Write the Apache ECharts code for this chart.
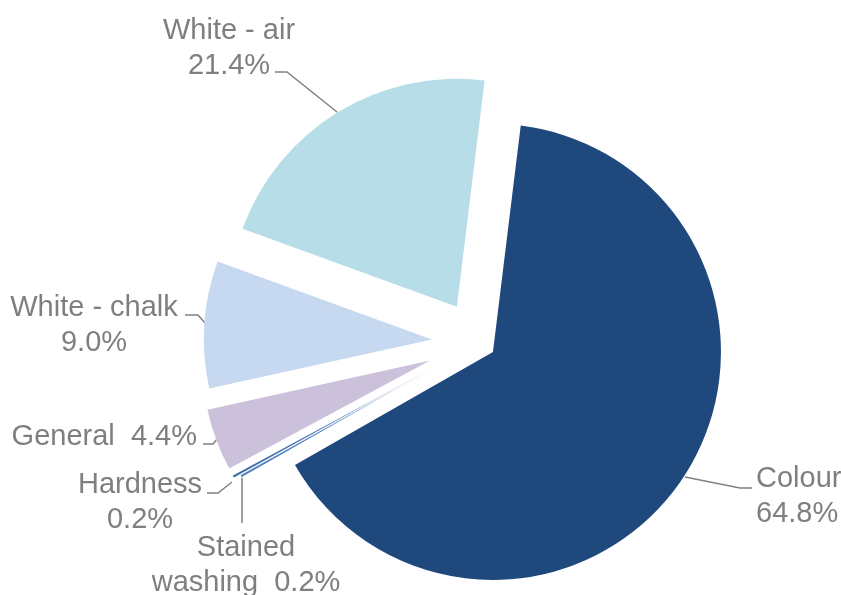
<!DOCTYPE html>
<html>
<head>
<meta charset="utf-8">
<script src="https://cdn.jsdelivr.net/npm/echarts@6/dist/echarts.min.js"></script>
<style>
  html, body { margin: 0; padding: 0; background: #fff; }
  #mainChart { width: 841px; height: 595px; }
</style>
</head>
<body>
<div id="mainChart"></div>
<script>
// data
var categories = ['Colour', 'Stained washing', 'Hardness', 'General', 'White - chalk', 'White - air']
var shares = [64.8, 0.2, 0.2, 4.4, 9.0, 21.4]
var labelNames = ['Colour', 'Stained\nwashing', 'Hardness', 'General', 'White - chalk', 'White - air']
var labelSeps = ['\n', '  ', '\n', '  ', '\n', '\n']

// look
var colors = ['#1f497d', '#4f81bd', '#3e6ba6', '#ccc1da', '#c6d9f1', '#b7dde8']
var explode = [17, 45, 52, 52, 47, 42]
var pieCenter = [478.8, 342.5]
var pieRadius = 228
var startDeg = 7 // clockwise from 12 o'clock

// where each label sits, and its leader line
var labelSpots = [
  { x: 756, y: 496, align: 'left', line: [[685, 477], [740, 488], [752, 488]] },
  { x: 246, y: 565, align: 'center', line: [[242, 475], [242, 500], [242, 523]] },
  { x: 140, y: 502, align: 'center', line: [[232, 482], [218, 493], [207, 493]] },
  { x: 197, y: 437, align: 'right', line: [[218, 438], [213, 444], [203, 444]] },
  { x: 94, y: 325.5, align: 'center', line: [[205, 323], [198, 315], [185, 315]] },
  { x: 229, y: 48, align: 'center', line: [[337, 112], [287, 72], [275, 72]] }
]

var total = shares.reduce(function (a, b) { return a + b }, 0)

var chart = echarts.init(document.getElementById('mainChart'))

var series = []
var cum = 0
categories.forEach(function (name, i) {
  var mid = (startDeg + 360 * (cum + shares[i] / 2) / total) * Math.PI / 180
  cum += shares[i]
  var c = [pieCenter[0] + explode[i] * Math.sin(mid), pieCenter[1] - explode[i] * Math.cos(mid)]
  series.push({
    type: 'pie',
    center: c,
    radius: pieRadius,
    startAngle: 90 - startDeg,
    clockwise: true,
    silent: true,
    animation: false,
    avoidLabelOverlap: false,
    emphasis: { disabled: true },
    label: {
      position: 'outside',
      fontFamily: 'Liberation Sans',
      fontSize: 29,
      lineHeight: 35,
      color: '#7f7f7f',
      formatter: function (p) {
        return labelNames[p.dataIndex] + labelSeps[p.dataIndex] + p.value.toFixed(1) + '%'
      }
    },
    labelLine: { lineStyle: { color: '#808080', width: 1.5 } },
    labelLayout: function (p) {
      var s = labelSpots[p.dataIndex]
      return { x: s.x, y: s.y, align: s.align, verticalAlign: 'middle', labelLinePoints: s.line }
    },
    data: categories.map(function (n, j) {
      var own = j === i
      return {
        name: n,
        value: shares[j],
        itemStyle: {
          color: own ? colors[j] : 'rgba(0,0,0,0)',
          borderColor: own && shares[j] < 1 ? '#ffffff' : 'rgba(0,0,0,0)',
          borderWidth: own && shares[j] < 1 ? 0.8 : 0
        },
        label: { show: own },
        labelLine: { show: own }
      }
    })
  })
})

chart.setOption({ series: series })
</script>
</body>
</html>
